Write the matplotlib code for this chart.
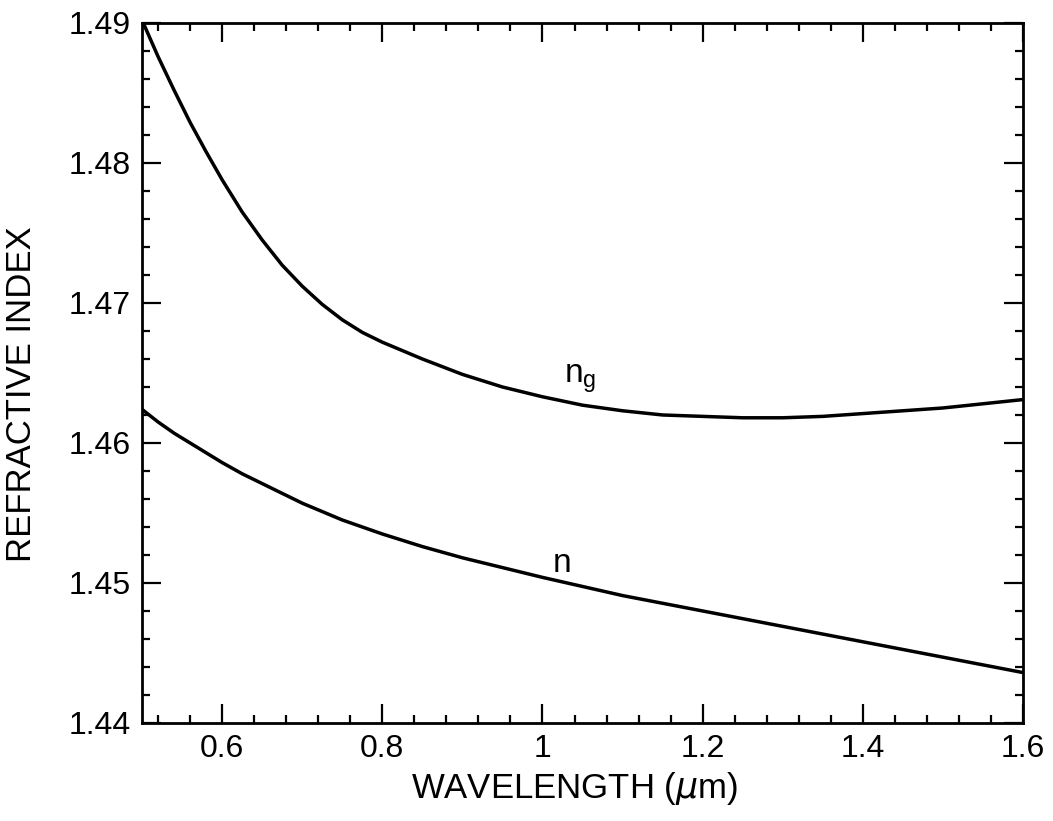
# Refractive index n and group index n_g of fused silica vs wavelength
import numpy as np
import matplotlib.pyplot as plt
from matplotlib.ticker import MultipleLocator

plt.rcParams['font.family'] = ['Liberation Sans', 'DejaVu Sans']

# values
wl_ng = [0.50, 0.52, 0.54, 0.56, 0.58, 0.60, 0.625, 0.65, 0.675, 0.70, 0.725, 0.75,
         0.775, 0.80, 0.85, 0.90, 0.95, 1.00, 1.05, 1.10, 1.15, 1.20, 1.25, 1.30,
         1.35, 1.40, 1.45, 1.50, 1.55, 1.60]
ng = [1.4902, 1.4876, 1.4852, 1.4829, 1.4808, 1.4788, 1.4765, 1.4745, 1.4727, 1.4712,
      1.4699, 1.4688, 1.4679, 1.4672, 1.4660, 1.4649, 1.4640, 1.4633, 1.4627, 1.4623,
      1.4620, 1.4619, 1.4618, 1.4618, 1.4619, 1.4621, 1.4623, 1.4625, 1.4628, 1.4631]

wl_n = [0.50, 0.52, 0.54, 0.56, 0.58, 0.60, 0.625, 0.65, 0.675, 0.70, 0.75, 0.80,
        0.85, 0.90, 0.95, 1.00, 1.10, 1.20, 1.30, 1.40, 1.50, 1.60]
n = [1.4624, 1.4615, 1.4607, 1.4600, 1.4593, 1.4586, 1.4578, 1.4571, 1.4564, 1.4557,
     1.4545, 1.4535, 1.4526, 1.4518, 1.4511, 1.4504, 1.4491, 1.4480, 1.4469, 1.4458,
     1.4447, 1.4436]

xticks = [0.6, 0.8, 1.0, 1.2, 1.4, 1.6]
xticklabels = ['0.6', '0.8', '1', '1.2', '1.4', '1.6']
yticks = [1.44, 1.45, 1.46, 1.47, 1.48, 1.49]

fig = plt.figure(figsize=(10.53, 8.21), dpi=100)
ax = fig.add_axes([0.1349, 0.1194, 0.8366, 0.8526])

ax.plot(wl_ng, ng, color='black', lw=2.5, solid_joinstyle='round')
ax.plot(wl_n, n, color='black', lw=2.5, solid_joinstyle='round')

ax.text(1.047, 1.4646, r'n$_{\mathregular{g}}$', fontsize=24, ha='center', va='center')
ax.text(1.025, 1.4514, 'n', fontsize=24, ha='center', va='center')

ax.set_xlim(0.5, 1.6)
ax.set_ylim(1.44, 1.49)
ax.set_xticks(xticks)
ax.set_xticklabels(xticklabels)
ax.set_yticks(yticks)
ax.set_yticklabels([f'{v:.2f}' for v in yticks])
ax.xaxis.set_minor_locator(MultipleLocator(0.04))
ax.yaxis.set_minor_locator(MultipleLocator(0.002))

ax.tick_params(which='both', direction='in', top=True, right=True, width=1.6, labelsize=23)
ax.tick_params(which='major', length=14, pad=8)
ax.tick_params(which='minor', length=6)
for s in ax.spines.values():
    s.set_linewidth(2)

ax.set_xlabel(r'WAVELENGTH ($\mu$m)', fontsize=25)
ax.set_ylabel('REFRACTIVE INDEX', fontsize=25)
ax.xaxis.set_label_coords(0.491, -0.067)
ax.yaxis.set_label_coords(-0.118, 0.469)

fig.savefig('out.png', dpi=100)
